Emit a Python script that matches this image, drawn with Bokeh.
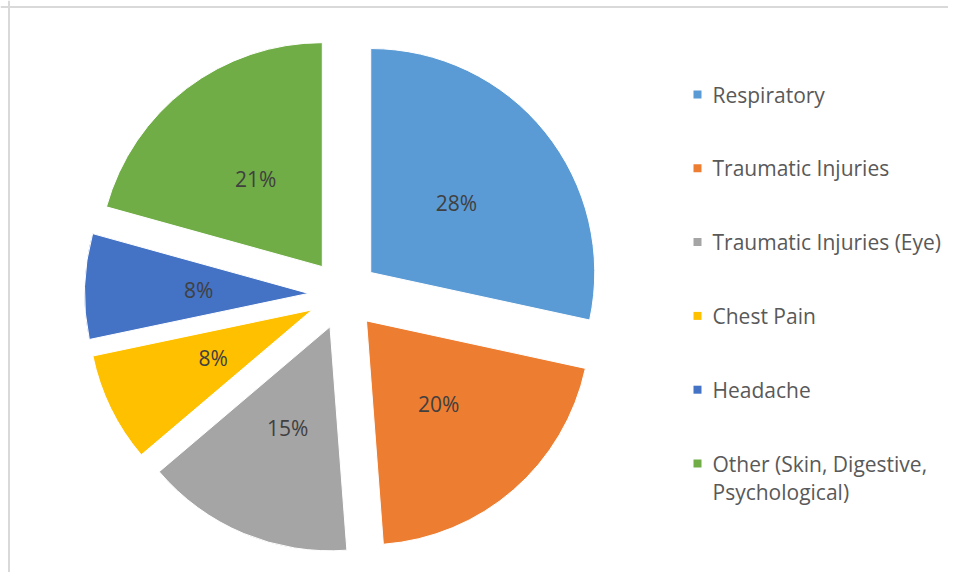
import math
from bokeh.plotting import figure
from bokeh.models import Range1d, Span, ColumnDataSource
from bokeh.core.properties import value
from bokeh.embed import file_html
from bokeh.resources import INLINE

# ---- data ----
categories = ["Respiratory", "Traumatic Injuries", "Traumatic Injuries (Eye)",
              "Chest Pain", "Headache", "Other (Skin, Digestive,\nPsychological)"]
shares = [28.4, 20.4, 15.0, 7.9, 7.6, 20.7]
colors = ["#5B9BD5", "#ED7D31", "#A5A5A5", "#FFC000", "#4472C4", "#70AD47"]

# ---- layout ----
W, H = 948, 572
cx, cy = 343, 278          # pie centre (frame px, y up)
R = 224                    # radius
explode = 35               # explosion distance
label_r = 110              # label distance from slice apex

total = float(sum(shares))
xs, ys, starts, ends, lx, ly, ltxt = [], [], [], [], [], [], []
acc = 0.0
for v in shares:
    t0 = acc / total * 2 * math.pi
    t1 = (acc + v) / total * 2 * math.pi
    mid = (t0 + t1) / 2
    dx, dy = math.sin(mid), math.cos(mid)
    ax, ay = cx + explode * dx, cy + explode * dy
    xs.append(ax); ys.append(ay)
    starts.append(math.pi / 2 - t0)
    ends.append(math.pi / 2 - t1)
    lx.append(ax + label_r * dx); ly.append(ay + label_r * dy)
    ltxt.append(f"{round(v / total * 100)}%")
    acc += v

p = figure(width=W, height=H, output_backend="svg", toolbar_location=None,
           x_range=Range1d(0, W), y_range=Range1d(0, H), min_border=0)
p.axis.visible = False
p.grid.visible = False
p.outline_line_color = None
p.background_fill_color = "white"

p.add_layout(Span(location=8.5, dimension="height", line_color="#d9d9d9", line_width=2))
p.add_layout(Span(location=H - 6.5, dimension="width", line_color="#d9d9d9", line_width=2))

src = ColumnDataSource(dict(x=xs, y=ys, s=starts, e=ends, c=colors))
p.wedge(x="x", y="y", radius=R, start_angle="s", end_angle="e", direction="clock",
        fill_color="c", line_color="white", line_width=1, source=src)

p.text(x=lx, y=ly, text=ltxt, text_font=value("Open Sans"), text_font_size="21px",
       text_color="#404040", text_align="center", text_baseline="middle")

# legend
leg_sq_x = 697
leg_tx = 712
leg_top = H - 94
leg_step = 73.8
sq_y = [leg_top - i * leg_step for i in range(len(categories))]
p.scatter(x=[leg_sq_x] * len(categories), y=sq_y, marker="square", size=8,
          fill_color=colors, line_color=None)
p.text(x=[leg_tx] * len(categories), y=[y + 14 for y in sq_y], text=categories,
       text_font=value("Open Sans"), text_font_size="21px", text_color="#595959",
       text_align="left", text_baseline="top", text_line_height=1.0)

open("out.html", "w").write(file_html(p, INLINE))
